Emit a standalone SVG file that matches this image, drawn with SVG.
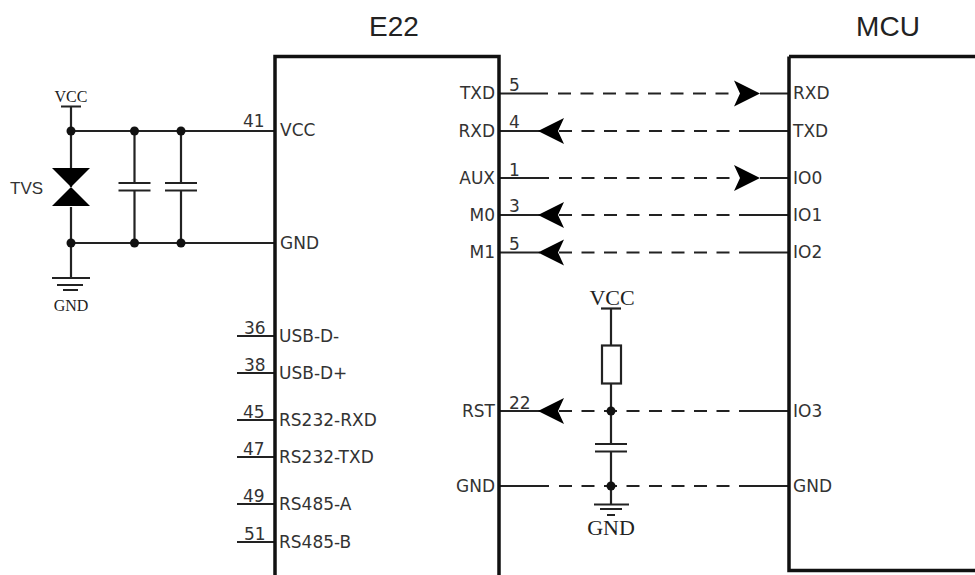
<svg xmlns="http://www.w3.org/2000/svg" width="975" height="575" viewBox="0 0 975 575">
<style>
.w{fill:none;stroke:#222;stroke-width:2.200}
.d{fill:none;stroke:#222;stroke-width:2.200;stroke-dasharray:13 9.500}
.b{fill:none;stroke:#111;stroke-width:3.500}
.j{fill:#111}
.l{font-family:"DejaVu Sans",sans-serif;font-size:17px;fill:#333}
.n{font-family:"DejaVu Sans",sans-serif;font-size:17px;fill:#333}
.r{text-anchor:end}
.t{font-family:"Liberation Sans",sans-serif;font-size:28px;fill:#222;text-anchor:middle}
.s{font-family:"Liberation Serif",serif;fill:#222;text-anchor:middle}
.v{font-family:"Liberation Sans",sans-serif;font-size:17px;fill:#333}
</style>
<defs>
<path id="ar" d="M0 0L26 -13L20 0L26 13Z" fill="#000"/>
<path id="al" d="M0 0L-26 -13L-20 0L-26 13Z" fill="#000"/>
<path id="cap" d="M-16 -4H16M-16 3.500H16" fill="none" stroke="#222" stroke-width="2"/>
</defs>
<g id="connectors">
<path class="w" d="M499 93.500H548M760 93.500H789"/><path class="d" d="M558 93.500H735"/>
<path class="w" d="M499 131H540M745 131H789"/><path class="d" d="M559 131H745"/>
<path class="w" d="M499 178H549M760 178H789"/><path class="d" d="M559 178H735"/>
<path class="w" d="M499 215H540M745 215H789"/><path class="d" d="M559 215H745"/>
<path class="w" d="M499 252.500H540M745 252.500H789"/><path class="d" d="M559 252.500H745"/>
<path class="w" d="M499 411H540M745 411H789"/><path class="d" d="M559 411H745"/>
<path class="w" d="M499 486H549M745 486H789"/><path class="d" d="M559 486H745"/>
<path class="w" d="M71 131H275M71 243H275"/>
<path class="w" d="M237 336H275M237 373H275M237 420H275M237 457H275M237 504H275M237 542H275"/>
</g>
<g id="e22">
<path class="b" d="M275 575V56.500H499V575"/>
<text class="t" x="394" y="36">E22</text>
<text class="l" x="280" y="136">VCC</text><text class="n" x="243" y="127">41</text>
<text class="l" x="280" y="249">GND</text>
<text class="l" x="279" y="342">USB-D-</text><text class="n" x="244" y="334">36</text>
<text class="l" x="279" y="379">USB-D+</text><text class="n" x="244" y="371">38</text>
<text class="l" x="279" y="426">RS232-RXD</text><text class="n" x="243" y="418">45</text>
<text class="l" x="279" y="463">RS232-TXD</text><text class="n" x="243" y="455">47</text>
<text class="l" x="279" y="510">RS485-A</text><text class="n" x="243" y="502">49</text>
<text class="l" x="279" y="548">RS485-B</text><text class="n" x="244" y="540">51</text>
<text class="l r" x="495" y="99">TXD</text><text class="n" x="509" y="91">5</text>
<text class="l r" x="495" y="137">RXD</text><text class="n" x="509" y="128">4</text>
<text class="l r" x="495" y="184">AUX</text><text class="n" x="509" y="176">1</text>
<text class="l r" x="495" y="221">M0</text><text class="n" x="509" y="212">3</text>
<text class="l r" x="495" y="258">M1</text><text class="n" x="509" y="250">5</text>
<text class="l r" x="495" y="417">RST</text><text class="n" x="509" y="409">22</text>
<text class="l r" x="495" y="492">GND</text>
</g>
<g id="mcu">
<path class="b" d="M789 56.500V570.500H975M789 56.500H975"/>
<text class="t" x="888" y="36">MCU</text>
<text class="l" x="793" y="99">RXD</text>
<text class="l" x="793" y="137">TXD</text>
<text class="l" x="793" y="184">IO0</text>
<text class="l" x="793" y="221">IO1</text>
<text class="l" x="793" y="258">IO2</text>
<text class="l" x="793" y="417">IO3</text>
<text class="l" x="793" y="492">GND</text>
</g>
<g id="arrows">
<use href="#al" x="760" y="93.500"/>
<use href="#ar" x="538" y="131"/>
<use href="#al" x="760" y="178"/>
<use href="#ar" x="538" y="215"/>
<use href="#ar" x="538" y="252.500"/>
<use href="#ar" x="538" y="411"/>
</g>
<g id="tvs">
<path class="w" d="M71 107V187M71 207V278"/>
<path class="w" d="M61 106.500H81M52 278H90M57 285H83M63 290H78"/>
<path d="M52 168H90L52 206H90Z" fill="#000"/>
<circle class="j" cx="71" cy="131" r="4.500"/><circle class="j" cx="71" cy="243" r="4.500"/>
<text class="s" x="71" y="102" font-size="16">VCC</text>
<text class="s" x="71" y="311" font-size="16">GND</text>
<text class="v" x="10" y="194">TVS</text>
</g>
<g id="c1"><path class="w" d="M134.500 131V183M134.500 190V243"/><use href="#cap" x="134.500" y="187"/><circle class="j" cx="134.500" cy="131" r="4.500"/><circle class="j" cx="134.500" cy="243" r="4.500"/></g>
<g id="c2"><path class="w" d="M181 131V183M181 190V243"/><use href="#cap" x="181" y="187"/><circle class="j" cx="181" cy="131" r="4.500"/><circle class="j" cx="181" cy="243" r="4.500"/></g>
<g id="rst-net">
<path class="w" d="M611 309V345M611 384V444M611 452V505"/>
<path class="w" d="M601 308.500H621"/>
<rect class="w" x="602" y="345.500" width="19" height="38"/>
<use href="#cap" x="611" y="448"/>
<path class="w" d="M594 504.500H629M600 509H622M607 515H615"/>
<circle class="j" cx="611" cy="411" r="4.500"/><circle class="j" cx="611" cy="486" r="4.500"/>
<text class="s" x="612" y="305" font-size="22">VCC</text>
<text class="s" x="611" y="535" font-size="22">GND</text>
</g>
</svg>
